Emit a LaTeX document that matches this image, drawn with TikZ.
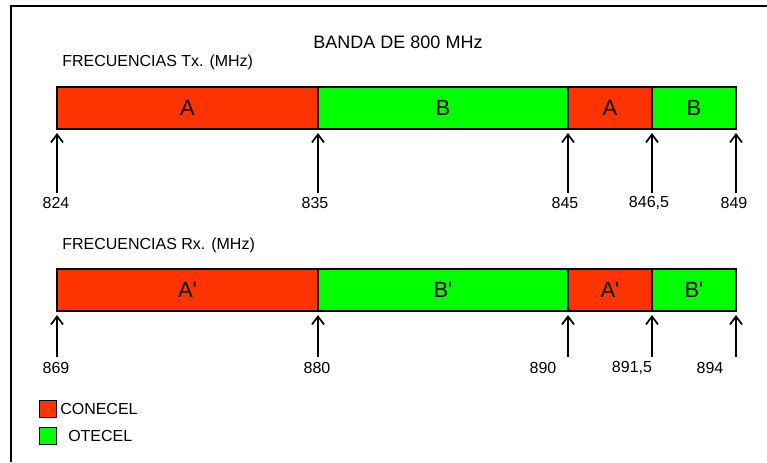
\documentclass[tikz,border=0pt]{standalone}
\usepackage{fontspec}
\setmainfont{Liberation Sans}
\usetikzlibrary{arrows.meta,positioning}
\definecolor{conecel}{RGB}{255,51,0}
\definecolor{otecel}{RGB}{0,255,0}
\tikzset{
  seg/.style={draw, line width=1.1pt, outer sep=0pt, inner sep=0pt, minimum height=31.5pt, font=\fontsize{16.5}{19}\selectfont},
  tick/.style={-{Straight Barb[length=6pt,width=9pt]}, line width=1.3pt, shorten >=3pt},
  freq/.style={font=\fontsize{12}{14}\selectfont, inner sep=0pt},
  key/.style={draw, line width=0.8pt, minimum size=13pt, inner sep=0pt}
}

\begin{document}
\begin{tikzpicture}[x=0.75pt, y=-0.75pt]
\useasboundingbox (0,0) rectangle (767,462);
\draw[line width=1.5pt] (11,462) -- (11,6) -- (767,6);

\node[font=\fontsize{13.5}{16}\selectfont] (title) at (398,42) {BANDA DE 800 MHz};
\node[freq, anchor=west] (txtitle) at (62,62) {FRECUENCIAS Tx. (MHz)};

% Tx
\node[seg, fill=conecel, minimum width=195.75pt, anchor=north west] (txA) at (57,87) {A};
\node[seg, fill=otecel, minimum width=187.5pt, right=0pt of txA] (txB) {B};
\node[seg, fill=conecel, minimum width=63pt, right=0pt of txB] (txA2) {A};
\node[seg, fill=otecel, minimum width=63pt, right=0pt of txA2] (txB2) {B};

\coordinate[below=48pt of txA.south west] (t824);
\coordinate[below=48pt of txB.south west] (t835);
\coordinate[below=48pt of txA2.south west] (t845);
\coordinate[below=48pt of txB2.south west] (t8465);
\coordinate[below=48pt of txB2.south east] (t849);
\draw[tick] (t824) -- (txA.south west);
\draw[tick] (t835) -- (txB.south west);
\draw[tick] (t845) -- (txA2.south west);
\draw[tick] (t8465) -- (txB2.south west);
\draw[tick] (t849) -- (txB2.south east);

\node[freq] (f824) at (56,203) {824};
\node[freq] (f835) at (315,203) {835};
\node[freq] (f845) at (565,203) {845};
\node[freq] (f8465) at (649,203) {846,5};
\node[freq] (f849) at (734,203) {849};

% Rx
\node[freq, anchor=west] (rxtitle) at (62,245) {FRECUENCIAS Rx. (MHz)};

\node[seg, fill=conecel, minimum width=195.75pt, anchor=north west] (rxA) at (57,269) {A\textquotesingle};
\node[seg, fill=otecel, minimum width=187.5pt, right=0pt of rxA] (rxB) {B\textquotesingle};
\node[seg, fill=conecel, minimum width=63pt, right=0pt of rxB] (rxA2) {A\textquotesingle};
\node[seg, fill=otecel, minimum width=63pt, right=0pt of rxA2] (rxB2) {B\textquotesingle};

\coordinate[below=34.5pt of rxA.south west] (r869);
\coordinate[below=34.5pt of rxB.south west] (r880);
\coordinate[below=34.5pt of rxA2.south west] (r890);
\coordinate[below=34.5pt of rxB2.south west] (r8915);
\coordinate[below=34.5pt of rxB2.south east] (r894);
\draw[tick] (r869) -- (rxA.south west);
\draw[tick] (r880) -- (rxB.south west);
\draw[tick] (r890) -- (rxA2.south west);
\draw[tick] (r8915) -- (rxB2.south west);
\draw[tick] (r894) -- (rxB2.south east);

\node[freq] (f869) at (56,368) {869};
\node[freq] (f880) at (317,368) {880};
\node[freq] (f890) at (543,368) {890};
\node[freq] (f8915) at (632,368) {891,5};
\node[freq] (f894) at (710,368) {894};

% leyenda
\node[key, fill=conecel, anchor=north west] (kconecel) at (39,400) {};
\node[freq, anchor=west] (lconecel) at (60,409) {CONECEL};
\node[key, fill=otecel, anchor=north west] (kotecel) at (39,427) {};
\node[freq, anchor=west] (lotecel) at (68,436) {OTECEL};
\end{tikzpicture}
\end{document}
